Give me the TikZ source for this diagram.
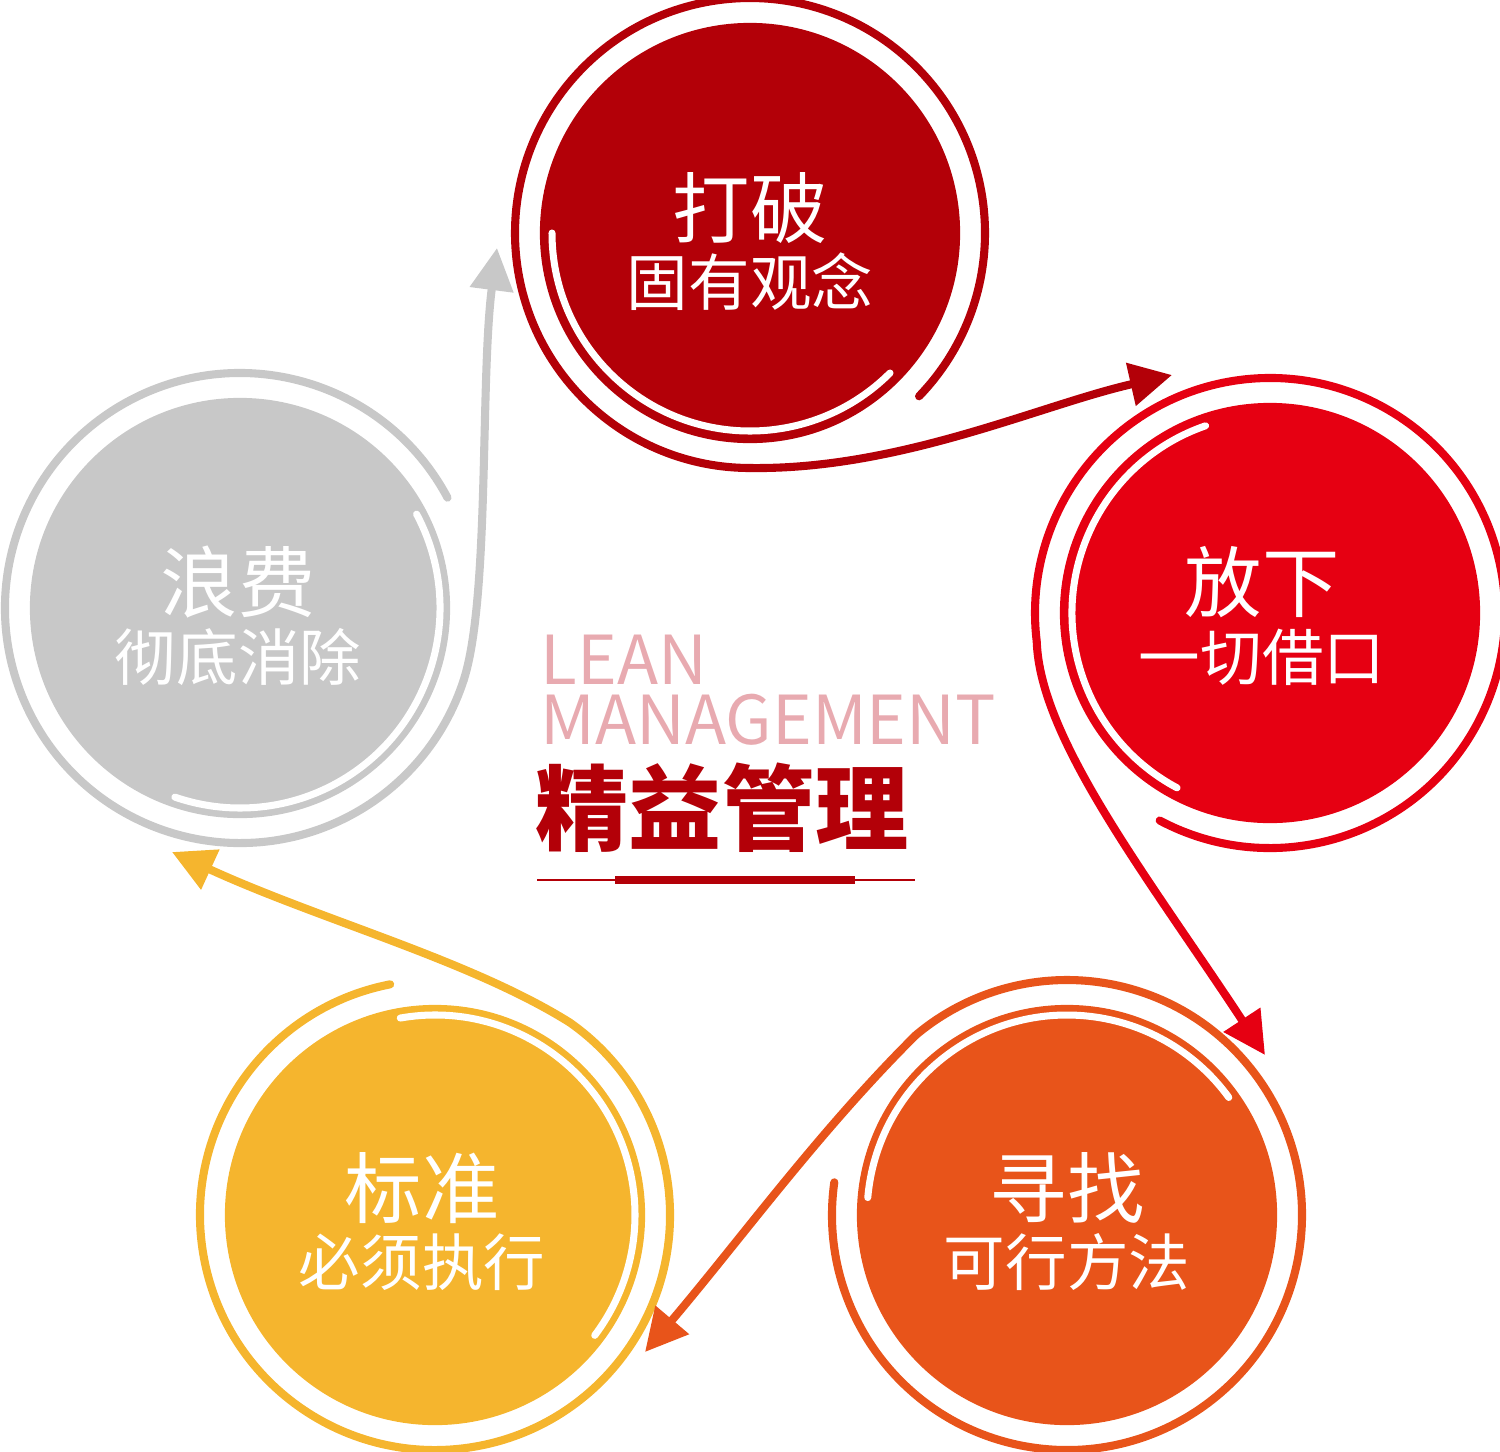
\documentclass[tikz,border=0pt]{standalone}
\usepackage{fontspec}
\setmainfont{Noto Sans CJK SC}
\usetikzlibrary{arrows.meta}
\definecolor{cA}{HTML}{B30008}
\definecolor{cB}{HTML}{E60012}
\definecolor{cC}{HTML}{E8541A}
\definecolor{cD}{HTML}{F5B52E}
\definecolor{cE}{HTML}{C8C8C8}
\definecolor{pinktxt}{HTML}{E8AAB0}
\tikzset{
  disc/.style={circle,fill=#1,minimum size=4.2cm,inner sep=0pt},
  ring/.style={draw=#1,line width=2.3pt,line cap=round},
  gleam/.style={draw=white,line width=2pt,line cap=round},
  flow/.style={draw=#1,line width=2.3pt,-{Triangle[length=12pt,width=12pt]}},
  bigtxt/.style={text=white,font=\fontsize{22}{24}\selectfont},
  smalltxt/.style={text=white,font=\fontsize{17.5}{20}\selectfont},
  engtxt/.style={anchor=west,text=pinktxt,font=\fontsize{19.2}{20}\selectfont,inner sep=0pt},
}
\begin{document}
\begin{tikzpicture}[x=0.01cm,y=0.01cm]
        \useasboundingbox (0,0) rectangle (1500,-1451);
        % circles
        \node[disc=cA] (c1) at (750,-233) {};
        \node[disc=cB] (c2) at (1270,-613) {};
        \node[disc=cC] (c3) at (1067,-1215) {};
        \node[disc=cD] (c4) at (435,-1215) {};
        \node[disc=cE] (c5) at (240,-608) {};
        % white gleams
        \draw[gleam] (c1.center) ++(180:198) arc[start angle=180,end angle=315,radius=198];
        \draw[gleam] (c2.center) ++(109:198) arc[start angle=109,end angle=242,radius=198];
        \draw[gleam] (c3.center) ++(175:200) arc[start angle=175,end angle=36,radius=200];
        \draw[gleam] (c4.center) ++(100:200) arc[start angle=100,end angle=-37,radius=200];
        \draw[gleam] (c5.center) ++(28:200) arc[start angle=28,end angle=-109,radius=200];
        % outer rings
        \draw[ring=cA] (c1.center) ++(-44:235) arc[start angle=-44,end angle=270,radius=235] coordinate (o1);
        \draw[ring=cB] (c2.center) ++(-118:235) arc[start angle=-118,end angle=187,radius=235] coordinate (o2);
        \draw[ring=cC] (c3.center) ++(172:235) arc[start angle=172,end angle=490,radius=235] coordinate (o3);
        \draw[ring=cD] (c4.center) ++(101:235) arc[start angle=101,end angle=415,radius=235] coordinate (o4);
        \draw[ring=cE] (c5.center) ++(28:235) arc[start angle=28,end angle=342,radius=235] coordinate (o5);
        % arrow ends
        \coordinate (t1) at (1172,-375);
        \coordinate (t2) at (1265,-1055);
        \coordinate (t3) at (645,-1352);
        \coordinate (t4) at (172,-852);
        \coordinate (t5) at (497,-248);
        \draw[flow=cA] (o1) .. controls (900,-470) and (1040,-405) .. (t1);
        \draw[flow=cB] (o2) .. controls (1040,-740) and (1150,-880) .. (t2);
        \draw[flow=cC] (o3) .. controls (820,-1130) and (740,-1240) .. (t3);
        \draw[flow=cD] (o4) .. controls (470,-960) and (320,-920) .. (t4);
        \draw[flow=cE] (o5) .. controls (490,-600) and (480,-380) .. (t5);
        % labels
        \node[bigtxt] (l1a) at (750,-208) {打破};
        \node[smalltxt] (l1b) at (750,-282) {固有观念};
        \node[bigtxt] (l2a) at (1262,-582) {放下};
        \node[smalltxt] (l2b) at (1262,-657) {一切借口};
        \node[bigtxt] (l3a) at (1067,-1188) {寻找};
        \node[smalltxt] (l3b) at (1067,-1262) {可行方法};
        \node[bigtxt] (l4a) at (422,-1188) {标准};
        \node[smalltxt] (l4b) at (422,-1262) {必须执行};
        \node[bigtxt] (l5a) at (238,-582) {浪费};
        \node[smalltxt] (l5b) at (238,-657) {彻底消除};
        % centre title
        \node[engtxt] (lean) at (540,-660) {LEAN};
        \node[engtxt] (mgmt) at (540,-720) {MANAGEMENT};
        \node[anchor=west,text=cA,font=\bfseries\fontsize{26.5}{28}\selectfont,inner sep=0pt] (jy) at (535,-808) {精益管理};
        \draw[cA,line width=0.6pt] (537,-880) -- (915,-880);
        \draw[cA,line width=2pt] (615,-880) -- (855,-880);
\end{tikzpicture}
\end{document}
